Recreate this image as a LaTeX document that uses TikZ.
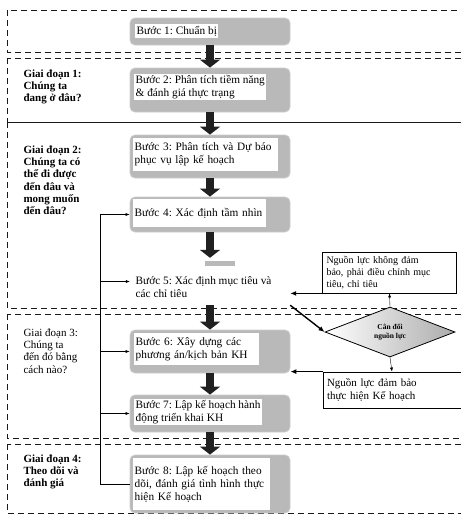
\documentclass[tikz,border=0pt]{standalone}
\usepackage{fontspec}
\setmainfont{Liberation Serif}
\usetikzlibrary{shapes.geometric,arrows.meta}
\frenchspacing

\begin{document}
\begin{tikzpicture}[x=1pt,y=-1pt,
	stagebox/.style={dash pattern=on 6pt off 4pt,gray!20!black,thick},
	stepbox/.style={rounded corners=5pt,fill=gray!55,draw=gray!40,thick,minimum width=160pt,inner sep=0pt},
	steptext/.style={fill=white,inner sep=1.5pt,align=left,anchor=west,font=\fontsize{11.3}{13}\selectfont},
	stagetext/.style={anchor=north west,align=left,font=\bfseries\fontsize{11}{12.3}\selectfont},
	sidebox/.style={draw,thick,align=left,inner sep=4pt,font=\fontsize{10}{12}\selectfont},
	bigarrow/.style={line width=8pt,gray!25!black,-{Triangle[width=20pt,length=8pt]}},
	fbarrow/.style={-{Latex[length=4pt,width=3pt]}},
	thickarrow/.style={line width=1.4pt,-{Latex[length=6pt,width=5pt]}}]
			\useasboundingbox (0,0) rectangle (461,515);
			\clip (0,0) rectangle (461,515);
			
			% stages
			\foreach \ya/\yb in {10/52,58/122,122/308,314/438,444/513}
			\draw[stagebox] (7,\ya) rectangle (480,\yb);
			
			\node[stagetext] (g1) at (20,66) {Giai đoạn 1:\\Chúng ta\\đang ở đâu?};
			\node[stagetext] (g2) at (20,142) {Giai đoạn 2:\\Chúng ta có\\thể đi được\\đến đâu và\\mong muốn\\đến đâu?};
			\node[stagetext,font=\fontsize{11}{12.3}\selectfont] (g3) at (20,325) {Giai đoạn 3:\\Chúng ta\\đến đó bằng\\cách nào?};
			\node[stagetext] (g4) at (20,451) {Giai đoạn 4:\\Theo dõi và\\đánh giá};
			
			% steps
			\node[stepbox,minimum height=27pt] (s1) at (210,31.5) {};
			\node[stepbox,minimum height=44pt] (s2) at (210,90) {};
			\node[stepbox,minimum height=43pt] (s3) at (210,156.5) {};
			\node[stepbox,minimum height=35pt] (s4) at (210,214.5) {};
			\node[minimum width=160pt,minimum height=47pt] (s5) at (210,281.5) {};
			\node[stepbox,minimum height=43pt] (s6) at (210,351.5) {};
			\node[stepbox,minimum height=37pt] (s7) at (210,413.5) {};
			\node[stepbox,minimum height=58pt] (s8) at (210,484) {};
			\fill[gray!55] (205,261) rectangle (235,266);
			
			\node[steptext] (t1) at (135,31) {Bước 1: Chuẩn bị};
			\node[steptext] (t2) at (134,87) {Bước 2: Phân tích tiềm năng\\\& đánh giá thực trạng};
			\node[steptext,text width=142pt,minimum height=33pt] (t3) at (133,154) {Bước 3: Phân tích và Dự báo\\phục vụ lập kế hoạch};
			\node[steptext,text width=130pt,minimum height=28pt] (t4) at (133,213) {Bước 4: Xác định tầm nhìn};
			\node[steptext,fill=none] (t5) at (134,287) {Bước 5: Xác định mục tiêu và\\các chỉ tiêu};
			\node[steptext,text width=122pt,minimum height=32pt] (t6) at (134,349) {Bước 6: Xây dựng các\\phương án/kịch bản KH};
			\node[steptext] (t7) at (134,412) {Bước 7: Lập kế hoạch hành\\động triển khai KH};
			\node[steptext,text width=134pt,minimum height=52pt] (t8) at (133,484) {Bước 8: Lập kế hoạch theo\\dõi, đánh giá tình hình thực\\hiện Kế hoạch};
			
			\foreach \a/\b in {1/2,2/3,3/4,4/5,5/6,6/7,7/8}
			\draw[bigarrow] (s\a.south) -- (s\b.north);
			
			% feedback from step 8
			\coordinate (bus) at (100,214.5);
			\draw[fbarrow] (s8.west) -| (bus) -- (s4.west);
			\foreach \s in {5,6,7}
			\draw[fbarrow] (bus |- s\s.west) -- (s\s.west);
			
			% resources
			\node[sidebox,text width=126pt,minimum height=41pt] (n1) at (389.5,272.5) {Nguồn lực không đảm\\bảo, phải điều chỉnh mục\\tiêu, chỉ tiêu};
			\node[diamond,draw,thick,left color=white,right color=gray!65,minimum width=130pt,minimum height=50pt,inner sep=0pt,align=center,font=\bfseries\fontsize{7.5}{9}\selectfont] (d) at (390,332) {Cân đối\\nguồn lực};
			\node[sidebox,text width=130pt,minimum height=36pt,font=\fontsize{11}{13}\selectfont] (n2) at (392,390) {Nguồn lực đảm bảo\\thực hiện Kế hoạch};
			
			\draw[fbarrow] (d.north) -- (n1.south);
			\draw[fbarrow] (d.south) -- (n2.north);
			\draw[thickarrow] (n1.south west) -- (n1.south west -| s5.east);
			\draw[thickarrow] (s5.south east) -- (d.west);
			\draw[thickarrow] (n2.north west) -- (n2.north west -| s6.east);
			\end{tikzpicture}
\end{document}
